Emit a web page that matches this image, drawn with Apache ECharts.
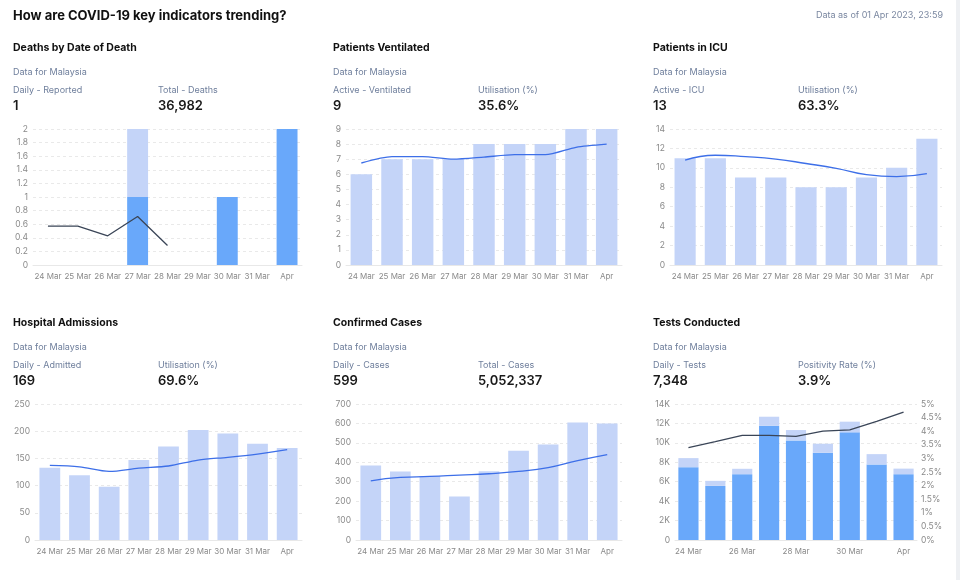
<!DOCTYPE html>
<html>
<head>
<meta charset="utf-8">
<script src="https://cdn.jsdelivr.net/npm/echarts@6/dist/echarts.min.js"></script>
<style>
html,body{margin:0;padding:0;background:#fff;}
#c{width:960px;height:580px;position:relative;}
#strip{position:absolute;left:956px;top:0;width:4px;height:580px;background:#eef0f3;}
</style>
</head>
<body>
<div id="c"></div>
<div id="strip"></div>
<script>
// ---- data ----
const categories = ['24 Mar','25 Mar','26 Mar','27 Mar','28 Mar','29 Mar','30 Mar','31 Mar','Apr'];

const deathsReported = [0,0,0,1,0,0,1,0,2];
const deathsOther    = [0,0,0,1,0,0,0,0,0];
const deathsAvg      = [0.571,0.571,0.429,0.714,0.286,null,null,null,null];

const ventActive = [6,7,7,7,8,8,8,9,9];
const ventAvg    = [6.75,7.17,7.17,7.0,7.14,7.3,7.3,7.79,8.0];

const icuActive = [11,11,9,9,8,8,9,10,13];
const icuAvg    = [10.8,11.3,11.15,10.9,10.45,9.95,9.3,9.1,9.4];

const hospAdmitted = [133,119,98,147,172,202,196,177,169];
const hospAvg      = [137,134.5,126,132,136,147,152,158,166];

const casesDaily = [384,353,330,224,354,459,492,605,599];
const casesAvg   = [304,322,327,334,341,353,373,409,440];

const testsMain  = [7500,5570,6780,11760,10250,8980,11080,7770,6780];
const testsOther = [930,520,550,930,1070,930,1100,1070,568];
const positivity = [3.40,3.62,3.85,3.85,3.81,4.0,4.05,4.36,4.70];

const panels = [
  {title:'Deaths by Date of Death', l1:'Daily - Reported', v1:'1', l2:'Total - Deaths', v2:'36,982'},
  {title:'Patients Ventilated', l1:'Active - Ventilated', v1:'9', l2:'Utilisation (%)', v2:'35.6%'},
  {title:'Patients in ICU', l1:'Active - ICU', v1:'13', l2:'Utilisation (%)', v2:'63.3%'},
  {title:'Hospital Admissions', l1:'Daily - Admitted', v1:'169', l2:'Utilisation (%)', v2:'69.6%'},
  {title:'Confirmed Cases', l1:'Daily - Cases', v1:'599', l2:'Total - Cases', v2:'5,052,337'},
  {title:'Tests Conducted', l1:'Daily - Tests', v1:'7,348', l2:'Positivity Rate (%)', v2:'3.9%'}
];

// ---- layout ----
const FONT = 'Inter, "Noto Sans", sans-serif';
const colX = [13, 333, 653];
const rowY = [0, 275];
const grids = [
  {left:33,  right:960-302, top:129, height:136},
  {left:346, right:960-622, top:129, height:136},
  {left:670, right:960-942, top:129, height:136},
  {left:35,  right:960-302, top:404, height:136},
  {left:356, right:960-622, top:404, height:136},
  {left:675, right:960-917, top:404, height:136}
];
const LIGHT = '#c4d4f8', DARK = '#69a8fa', BLUE = '#3d6fe8', SLATE = '#3a4557';

function txt(x, y, text, size, weight, color, align) {
  return {type:'text', x:x, y:y, silent:true,
    style:{text:text, font: weight + ' ' + size + 'px ' + FONT, fill:color,
      textAlign: align || 'left', textVerticalAlign:'middle', verticalAlign:'middle'}};
}

const graphics = [];
graphics.push(txt(13, 16, 'How are COVID-19 key indicators trending?', 13, 700, '#111111'));
graphics.push(txt(943, 15, 'Data as of 01 Apr 2023, 23:59', 9, 400, '#7a87a0', 'right'));
panels.forEach((p, i) => {
  const x = colX[i % 3], dy = rowY[Math.floor(i / 3)];
  graphics.push(txt(x, 48 + dy, p.title, 10.5, 700, '#111111'));
  graphics.push(txt(x, 72 + dy, 'Data for Malaysia', 9, 400, '#6f7f9c'));
  graphics.push(txt(x, 90 + dy, p.l1, 9, 400, '#6f7f9c'));
  graphics.push(txt(x, 106 + dy, p.v1, 13, 600, '#1a1a1a'));
  graphics.push(txt(x + 145, 90 + dy, p.l2, 9, 400, '#6f7f9c'));
  graphics.push(txt(x + 145, 106 + dy, p.v2, 13, 600, '#1a1a1a'));
});

const yMax = [2, 9, 14, 250, 700, 14000];
const yInt = [0.2, 1, 2, 50, 100, 2000];

const xAxes = grids.map((g, i) => ({
  type:'category', gridIndex:i, data:categories,
  axisLine:{show:true, lineStyle:{color:'#e8e8e8'}},
  axisTick:{show:false},
  axisLabel:{color:'#8a8a8a', fontSize:8, fontFamily:FONT, margin:8, interval: i === 5 ? 1 : 0}
}));
const yAxes = grids.map((g, i) => ({
  type:'value', gridIndex:i, min:0, max:yMax[i], interval:yInt[i],
  axisLine:{show:false}, axisTick:{show:false},
  axisLabel:{color:'#8a8a8a', fontSize:8.5, fontFamily:FONT, margin:5,
    formatter: i === 5 ? (v => v === 0 ? '0' : (v/1000) + 'K') : null},
  splitLine:{show:true, lineStyle:{color:'#e9e9e9', type:[3,3]}}
}));
// right axis for positivity
yAxes.push({
  type:'value', gridIndex:5, position:'right', min:0, max:5, interval:0.5,
  axisLine:{show:false}, axisTick:{show:false},
  axisLabel:{color:'#8a8a8a', fontSize:8.5, fontFamily:FONT, margin:4, formatter: v => v + '%'},
  splitLine:{show:false}
});

const barBase = {type:'bar', barCategoryGap:'30%', silent:true};
const lineBase = {type:'line', symbol:'none', silent:true, z:5};

const series = [
  Object.assign({}, barBase, {xAxisIndex:0, yAxisIndex:0, stack:'d', data:deathsReported, itemStyle:{color:DARK}}),
  Object.assign({}, barBase, {xAxisIndex:0, yAxisIndex:0, stack:'d', data:deathsOther, itemStyle:{color:LIGHT}}),
  Object.assign({}, lineBase, {xAxisIndex:0, yAxisIndex:0, data:deathsAvg, lineStyle:{color:SLATE, width:1.3}}),

  Object.assign({}, barBase, {xAxisIndex:1, yAxisIndex:1, data:ventActive, itemStyle:{color:LIGHT}}),
  Object.assign({}, lineBase, {xAxisIndex:1, yAxisIndex:1, data:ventAvg, smooth:0.25, lineStyle:{color:BLUE, width:1.3}}),

  Object.assign({}, barBase, {xAxisIndex:2, yAxisIndex:2, data:icuActive, itemStyle:{color:LIGHT}}),
  Object.assign({}, lineBase, {xAxisIndex:2, yAxisIndex:2, data:icuAvg, smooth:true, lineStyle:{color:BLUE, width:1.3}}),

  Object.assign({}, barBase, {xAxisIndex:3, yAxisIndex:3, data:hospAdmitted, itemStyle:{color:LIGHT}}),
  Object.assign({}, lineBase, {xAxisIndex:3, yAxisIndex:3, data:hospAvg, smooth:0.3, lineStyle:{color:BLUE, width:1.3}}),

  Object.assign({}, barBase, {xAxisIndex:4, yAxisIndex:4, data:casesDaily, itemStyle:{color:LIGHT}}),
  Object.assign({}, lineBase, {xAxisIndex:4, yAxisIndex:4, data:casesAvg, smooth:true, lineStyle:{color:BLUE, width:1.3}}),

  Object.assign({}, barBase, {xAxisIndex:5, yAxisIndex:5, stack:'t', barCategoryGap:'25%', data:testsMain, itemStyle:{color:DARK}}),
  Object.assign({}, barBase, {xAxisIndex:5, yAxisIndex:5, stack:'t', barCategoryGap:'25%', data:testsOther, itemStyle:{color:LIGHT}}),
  Object.assign({}, lineBase, {xAxisIndex:5, yAxisIndex:6, data:positivity, lineStyle:{color:SLATE, width:1.3}})
];

const chart = echarts.init(document.getElementById('c'), null, {renderer:'canvas'});
chart.setOption({
  animation:false,
  backgroundColor:'#ffffff',
  textStyle:{fontFamily:FONT},
  grid:grids,
  xAxis:xAxes,
  yAxis:yAxes,
  series:series,
  graphic:{elements:graphics}
});
</script>
</body>
</html>
